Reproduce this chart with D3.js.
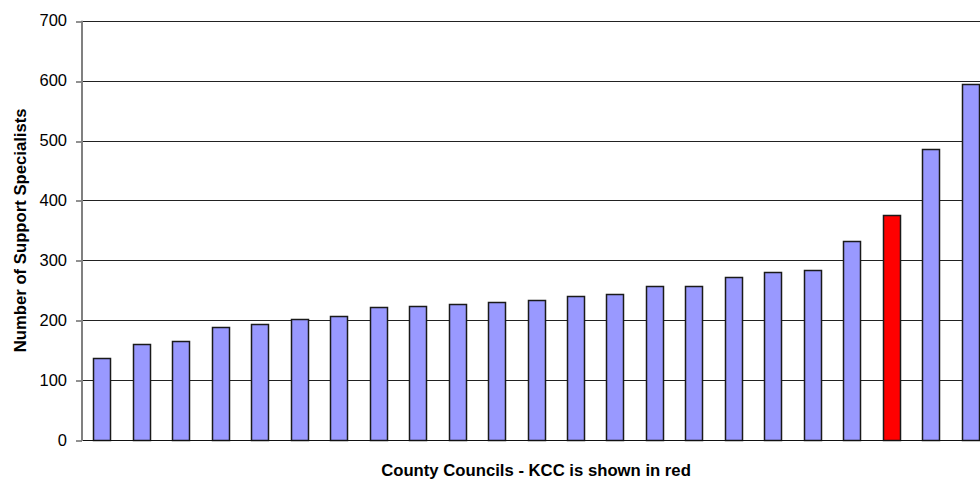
<!DOCTYPE html>
<html>
<head>
<meta charset="utf-8">
<script src="https://cdn.jsdelivr.net/npm/d3@7"></script>
<style>
  html, body { margin: 0; padding: 0; background: #fff; }
  svg { display: block; }
  text { font-family: "Liberation Sans", Arial, sans-serif; fill: #000; }
</style>
</head>
<body>
<svg id="chart" width="980" height="481"></svg>
<script>
// Data
const councils = ["C1","C2","C3","C4","C5","C6","C7","C8","C9","C10","C11","C12","C13","C14","C15","C16","C17","C18","C19","C20","KCC","C22","C23"];
const specialists = [137,161,166,188,193,202,207,222,224,227,231,233,241,243,257,257,272,280,284,332,376,486,595];
const highlight = "KCC";
const yTicks = [0,100,200,300,400,500,600,700];
const xTitle = "County Councils - KCC is shown in red";
const yTitle = "Number of Support Specialists";

(function () {
const svg = d3.select("#chart");
const pLeft = 82, pRight = 990, pTop = 20.7, pBottom = 440;

const x = d3.scaleBand().domain(councils).range([pLeft, pRight]).paddingInner(0.57).paddingOuter(0.285);
const y = d3.scaleLinear().domain([0, 700]).range([pBottom, pTop]);

const crisp = v => Math.round(v) + 0.5;

// Gridlines
svg.append("g").selectAll("line").data(yTicks.filter(d => d > 0)).join("line")
  .attr("x1", pLeft).attr("x2", 980)
  .attr("y1", d => crisp(y(d))).attr("y2", d => crisp(y(d)))
  .attr("stroke", "#222").attr("stroke-width", 1);

// Y axis with ticks
const yAxis = d3.axisLeft(y).tickValues(yTicks).tickSize(6).tickPadding(9).tickFormat(d3.format("d"));
const gy = svg.append("g").attr("transform", `translate(${pLeft},0)`).call(yAxis);
gy.select(".domain").remove();
gy.selectAll(".tick line").attr("stroke", "#222").attr("transform", d => `translate(0,${crisp(y(d)) - y(d)})`);
gy.selectAll(".tick text").attr("font-size", "16.5px").attr("font-family", "Liberation Sans, Arial, sans-serif").attr("fill", "#000");

// Bars
svg.append("g").selectAll("rect").data(councils).join("rect")
  .attr("x", d => Math.round(x(d)) + 0.5)
  .attr("y", (d, i) => Math.round(y(specialists[i])) + 0.5)
  .attr("width", Math.round(x.bandwidth()))
  .attr("height", (d, i) => pBottom - Math.round(y(specialists[i])))
  .attr("fill", d => d === highlight ? "#FF0000" : "#9999FF")
  .attr("stroke", "#1a1a1a").attr("stroke-width", 1.5);

// Axis lines
svg.append("line").attr("x1", pLeft).attr("x2", 980).attr("y1", crisp(pBottom)).attr("y2", crisp(pBottom))
  .attr("stroke", "#111").attr("stroke-width", 1);
svg.append("line").attr("x1", pLeft).attr("x2", pLeft).attr("y1", pTop).attr("y2", pBottom + 1)
  .attr("stroke", "#808080").attr("stroke-width", 2);

// Titles
svg.append("text").attr("x", (pLeft + pRight) / 2).attr("y", 476).attr("text-anchor", "middle")
  .attr("font-size", "16.7px").attr("font-weight", "bold").text(xTitle);
svg.append("text").attr("transform", `translate(26,${(pTop + pBottom) / 2}) rotate(-90)`).attr("text-anchor", "middle")
  .attr("font-size", "16.7px").attr("font-weight", "bold").text(yTitle);
})();
</script>
</body>
</html>
